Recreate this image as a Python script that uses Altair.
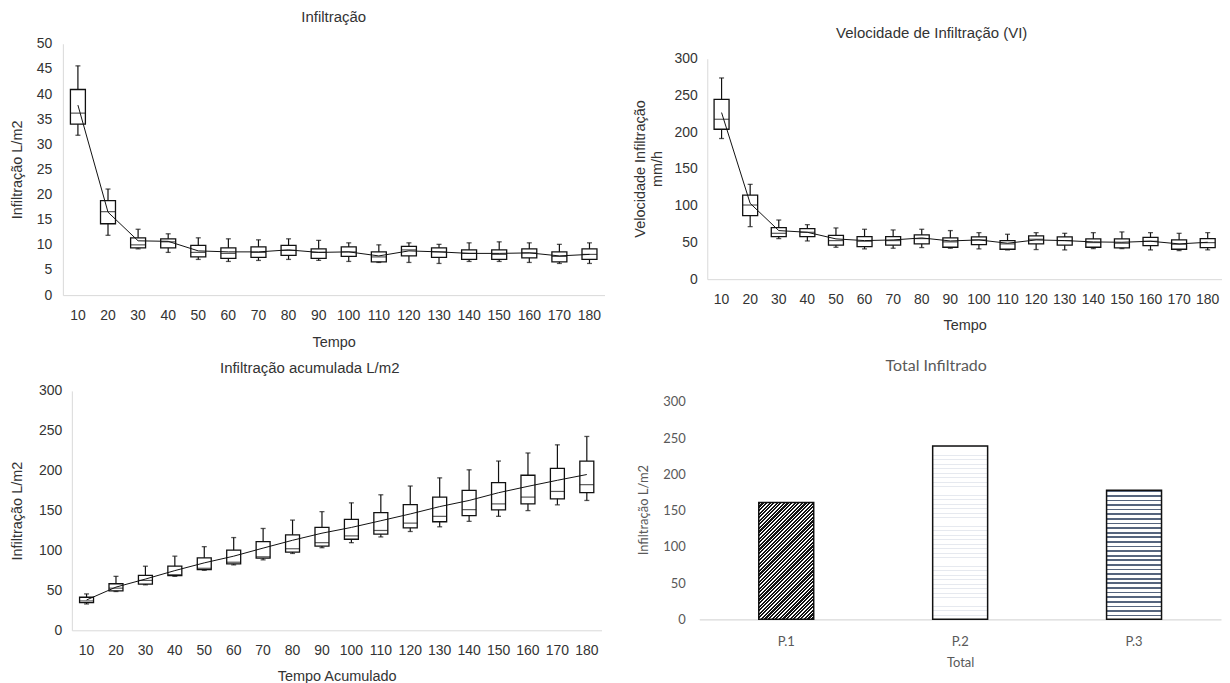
import altair as alt
import pandas as pd

# ---------------- data ----------------
tempo = [10, 20, 30, 40, 50, 60, 70, 80, 90, 100, 110, 120, 130, 140, 150, 160, 170, 180]
tempo_lbl = [str(t) for t in tempo]

# Infiltração (L/m2)
inf_max = [45.6, 21.1, 13.1, 12.2, 11.4, 11.2, 11.0, 11.2, 10.9, 10.4, 10.0, 10.4, 10.1, 10.4, 10.6, 10.4, 10.1, 10.4]
inf_q3 = [40.9, 18.8, 11.4, 11.2, 9.9, 9.4, 9.6, 9.9, 9.2, 9.6, 8.6, 9.7, 9.4, 9.0, 9.0, 9.2, 8.6, 9.2]
inf_med = [36.2, 16.6, 10.0, 10.6, 8.5, 8.3, 8.5, 8.9, 8.5, 8.6, 7.6, 9.0, 8.6, 8.3, 8.1, 8.4, 7.7, 8.1]
inf_q1 = [34.0, 14.2, 9.4, 9.4, 7.6, 7.3, 7.5, 7.9, 7.3, 7.7, 6.6, 7.8, 7.5, 7.1, 7.1, 7.4, 6.6, 7.1]
inf_min = [31.8, 11.9, 9.2, 8.5, 7.1, 6.7, 6.9, 7.1, 6.9, 6.7, 6.5, 6.5, 6.3, 6.7, 6.7, 6.5, 6.3, 6.3]
inf_mean = [37.8, 16.5, 10.8, 10.7, 8.8, 8.6, 8.6, 9.0, 8.5, 8.6, 7.8, 8.8, 8.6, 8.3, 8.3, 8.4, 7.8, 8.1]

# Velocidade de Infiltração (mm/h)
vi_max = [273.8, 129.0, 80.5, 74.2, 69.7, 67.9, 67.0, 67.9, 66.1, 63.3, 61.1, 63.3, 62.4, 63.3, 64.3, 63.3, 62.4, 63.3]
vi_q3 = [244.8, 114.5, 70.1, 68.8, 59.7, 57.9, 57.9, 60.2, 56.1, 57.5, 52.5, 58.8, 57.5, 54.8, 54.8, 57.0, 53.4, 55.2]
vi_med = [217.6, 100.9, 62.4, 63.8, 52.5, 51.6, 52.5, 55.2, 50.7, 53.4, 48.0, 54.3, 52.5, 49.8, 48.9, 51.6, 47.5, 49.8]
vi_q1 = [204.0, 86.4, 57.9, 57.9, 46.2, 44.3, 46.2, 48.0, 43.4, 47.1, 40.7, 48.0, 46.2, 43.4, 42.5, 45.7, 40.7, 43.0]
vi_min = [191.4, 71.5, 55.2, 52.0, 43.4, 41.2, 42.1, 43.0, 42.1, 41.2, 39.8, 40.3, 39.8, 41.6, 41.6, 39.8, 38.9, 39.8]
vi_mean = [226.7, 103.2, 66.1, 63.8, 54.8, 52.5, 53.4, 56.1, 52.0, 53.4, 48.9, 53.4, 52.5, 50.7, 50.2, 51.6, 48.0, 50.2]

# Infiltração acumulada (L/m2)
ac_max = [45.6, 67.6, 80.3, 92.9, 104.8, 116.2, 127.6, 138.1, 148.7, 159.7, 169.8, 180.8, 191.0, 201.1, 212.1, 222.2, 232.4, 242.9]
ac_q3 = [41.4, 58.3, 68.9, 80.3, 90.8, 100.5, 111.1, 119.6, 128.9, 139.0, 147.4, 157.6, 166.9, 175.3, 185.0, 194.3, 202.8, 212.1]
ac_med = [36.8, 52.8, 62.5, 69.7, 77.7, 85.3, 92.1, 102.2, 109.8, 118.3, 125.1, 134.3, 142.8, 151.2, 158.4, 166.9, 174.0, 182.5]
ac_q1 = [34.6, 49.4, 57.9, 68.4, 76.0, 83.2, 90.4, 98.0, 105.6, 114.1, 120.4, 128.4, 136.0, 143.6, 150.8, 158.4, 164.8, 172.4]
ac_min = [33.0, 48.6, 57.0, 67.6, 75.2, 82.0, 88.3, 96.3, 103.5, 109.8, 117.0, 123.8, 129.7, 136.5, 142.8, 150.0, 157.2, 162.7]
ac_mean = [38.0, 54.1, 64.2, 74.8, 84.5, 92.9, 103.0, 112.8, 121.7, 128.9, 137.3, 145.8, 155.0, 162.7, 172.4, 180.4, 188.0, 195.2]

# Total infiltrado
pontos = ["P.1", "P.2", "P.3"]
totais = [161, 239, 178]

# ---------------- style ----------------
BOX_FONT = "Liberation Sans"
BAR_FONT = "Lato"
TXT = "#333333"
BAR_TXT = "#595959"
AXIS_LINE = "#d9d9d9"
INK = "#111111"


def box_panel(mn, q1, md, q3, mx, mean, *, title, title_offset, title_dx, ytitle, xtitle,
              ymax, ystep, width, height, box_size, yrange=None, xrange=None, yoffset=0,
              ytitle_y=None, y_label_pad=11, y_title_pad=12, x_label_pad=14, x_title_pad=12):
    df = pd.DataFrame({"t": tempo_lbl, "mn": mn, "q1": q1, "md": md, "q3": q3,
                       "mx": mx, "mean": mean})
    xs_kw = dict(paddingInner=0, paddingOuter=0)
    if xrange is not None:
        xs_kw["range"] = xrange
    ys_kw = dict(domain=[0, ymax], nice=False, zero=True)
    if yrange is not None:
        ys_kw["range"] = yrange
    xs = alt.Scale(**xs_kw)
    ys = alt.Scale(**ys_kw)
    yax_kw = dict(values=list(range(0, ymax + 1, ystep)), grid=False, ticks=False, tickSize=0,
                  domainColor=AXIS_LINE, domainWidth=1, labelFont=BOX_FONT, labelFontSize=14,
                  labelColor=TXT, labelPadding=y_label_pad, title=ytitle, titleFont=BOX_FONT,
                  titleFontSize=14.5, titleFontWeight="normal", titleColor=TXT,
                  titlePadding=y_title_pad, offset=yoffset)
    if ytitle_y is not None:
        yax_kw["titleY"] = ytitle_y
    yaxis = alt.Axis(**yax_kw)
    xaxis = alt.Axis(labelAngle=0, ticks=False, tickSize=0, grid=False, domainColor=AXIS_LINE,
                     domainWidth=1, labelFont=BOX_FONT, labelFontSize=14, labelColor=TXT,
                     labelPadding=x_label_pad, title=xtitle, titleFont=BOX_FONT,
                     titleFontSize=14.5, titleFontWeight="normal", titleColor=TXT,
                     titlePadding=x_title_pad)
    x = alt.X("t:N", sort=tempo_lbl, scale=xs, axis=xaxis)

    def Y(f):
        return alt.Y(f, type="quantitative", scale=ys, axis=yaxis)

    base = alt.Chart(df).encode(x=x)
    whisk = base.mark_rule(color=INK, strokeWidth=1.2).encode(y=Y("mn"), y2="mx")
    box = base.mark_bar(size=box_size, fill="white", stroke=INK, strokeWidth=1.3).encode(
        y=Y("q1"), y2="q3")
    med = base.mark_tick(size=box_size, thickness=1.2, color=INK).encode(y=Y("md"))
    cap_hi = base.mark_tick(size=5, thickness=1.3, color=INK).encode(y=Y("mx"))
    cap_lo = base.mark_tick(size=5, thickness=1.3, color=INK).encode(y=Y("mn"))
    line = base.mark_line(color=INK, strokeWidth=1).encode(y=Y("mean"))
    return alt.layer(whisk, box, med, cap_hi, cap_lo, line).properties(
        width=width, height=height,
        title=alt.TitleParams(title, font=BOX_FONT, fontSize=15, fontWeight="normal",
                              color=TXT, offset=title_offset, dx=title_dx, anchor="middle"))


p1 = box_panel(inf_min, inf_q1, inf_med, inf_q3, inf_max, inf_mean,
               title="Infiltração", title_offset=12, title_dx=0,
               ytitle="Infiltração L/m2", xtitle="Tempo", ymax=50, ystep=5,
               width=543, height=252, box_size=15,
               y_label_pad=11, y_title_pad=12, x_label_pad=13, x_title_pad=14)

p2 = box_panel(vi_min, vi_q1, vi_med, vi_q3, vi_max, vi_mean,
               title="Velocidade de Infiltração (VI)", title_offset=3, title_dx=-29,
               ytitle=["Velocidade Infiltração", "mm/h"], xtitle="Tempo", ymax=300, ystep=50,
               width=524, height=236, box_size=15, yrange=[236, 15], xrange=[8, 524],
               yoffset=-8, ytitle_y=125,
               y_label_pad=10, y_title_pad=10, x_label_pad=13, x_title_pad=12)

p3 = box_panel(ac_min, ac_q1, ac_med, ac_q3, ac_max, ac_mean,
               title="Infiltração acumulada L/m2", title_offset=8, title_dx=-24,
               ytitle="Infiltração L/m2", xtitle="Tempo Acumulado", ymax=300, ystep=50,
               width=543, height=240, box_size=14, xrange=[9, 540], yoffset=-9,
               y_label_pad=10, y_title_pad=14, x_label_pad=13, x_title_pad=12)

# ---------------- bar chart with pattern-like fills ----------------
P4_W, P4_H, P4_TOP = 523, 229, 11
step = P4_W / (3 - 0.684 + 2 * 0.342)
bar_w = step * (1 - 0.684)
px_per_unit = (P4_H - P4_TOP) / 300.0


def stripes(n, dark, light, frac, x2, y2):
    stops = []
    for k in range(n):
        a = k / n
        b = (k + frac) / n
        c = (k + 1) / n
        stops += [alt.GradientStop(offset=a, color=dark), alt.GradientStop(offset=b, color=dark),
                  alt.GradientStop(offset=b, color=light), alt.GradientStop(offset=c, color=light)]
    return alt.LinearGradient(gradient="linear", stops=stops, x1=0, y1=0, x2=x2, y2=y2)


h1 = totais[0] * px_per_unit
a1 = (bar_w + h1) / (bar_w ** 2 + h1 ** 2)
fill1 = stripes(int(round((bar_w + h1) / 3.6)), "#141414", "#ffffff", 0.6, a1 * bar_w, a1 * h1)
h2 = totais[1] * px_per_unit
fill2 = stripes(int(round(h2 / 4.5)), "#e6e9ef", "#ffffff", 0.2, 0, 1)
h3 = totais[2] * px_per_unit
fill3 = stripes(int(round(h3 / 4.6)), "#56657e", "#ffffff", 0.38, 0, 1)
fills = [fill1, fill2, fill3]

bar_df = pd.DataFrame({"p": pontos, "v": totais})
bx = alt.X("p:N", sort=pontos,
           scale=alt.Scale(domain=pontos, paddingInner=0.684, paddingOuter=0.342),
           axis=alt.Axis(labelAngle=0, ticks=False, tickSize=0, grid=False, domainColor=AXIS_LINE,
                         domainWidth=1.2, labelFont=BAR_FONT, labelFontSize=13, labelColor=BAR_TXT,
                         labelPadding=16, title="Total", titleFont=BAR_FONT, titleFontSize=13,
                         titleFontWeight="normal", titleColor=BAR_TXT, titlePadding=8))
by = alt.Y("v:Q", scale=alt.Scale(domain=[0, 300], range=[P4_H, P4_TOP], nice=False),
           axis=alt.Axis(values=list(range(0, 301, 50)), grid=False, ticks=False, tickSize=0,
                         domain=False, labelFont=BAR_FONT, labelFontSize=13, labelColor=BAR_TXT,
                         labelPadding=14, title="Infiltração L/m2", titleFont=BAR_FONT,
                         titleFontSize=13, titleFontWeight="normal", titleColor=BAR_TXT,
                         titlePadding=12, titleY=119))
bar_layers = []
for name, f in zip(pontos, fills):
    bar_layers.append(
        alt.Chart(bar_df).transform_filter(alt.datum.p == name)
        .mark_bar(fill=f, stroke=INK, strokeWidth=1.5)
        .encode(x=bx, y=by))
p4 = alt.layer(*bar_layers).properties(
    width=P4_W, height=P4_H,
    title=alt.TitleParams("Total Infiltrado", font=BAR_FONT, fontSize=16, fontWeight="normal",
                          color=BAR_TXT, offset=17, dx=-24, anchor="middle"))

chart = alt.concat(p1, p2, p3, p4, columns=2, spacing={"row": 96, "column": 95},
                   align="each", bounds="flush").properties(
    padding={"left": 1, "top": 1, "right": 0, "bottom": 0}
).configure_view(stroke=None)

chart.save("out.html", embed_options={"renderer": "svg", "actions": False})
